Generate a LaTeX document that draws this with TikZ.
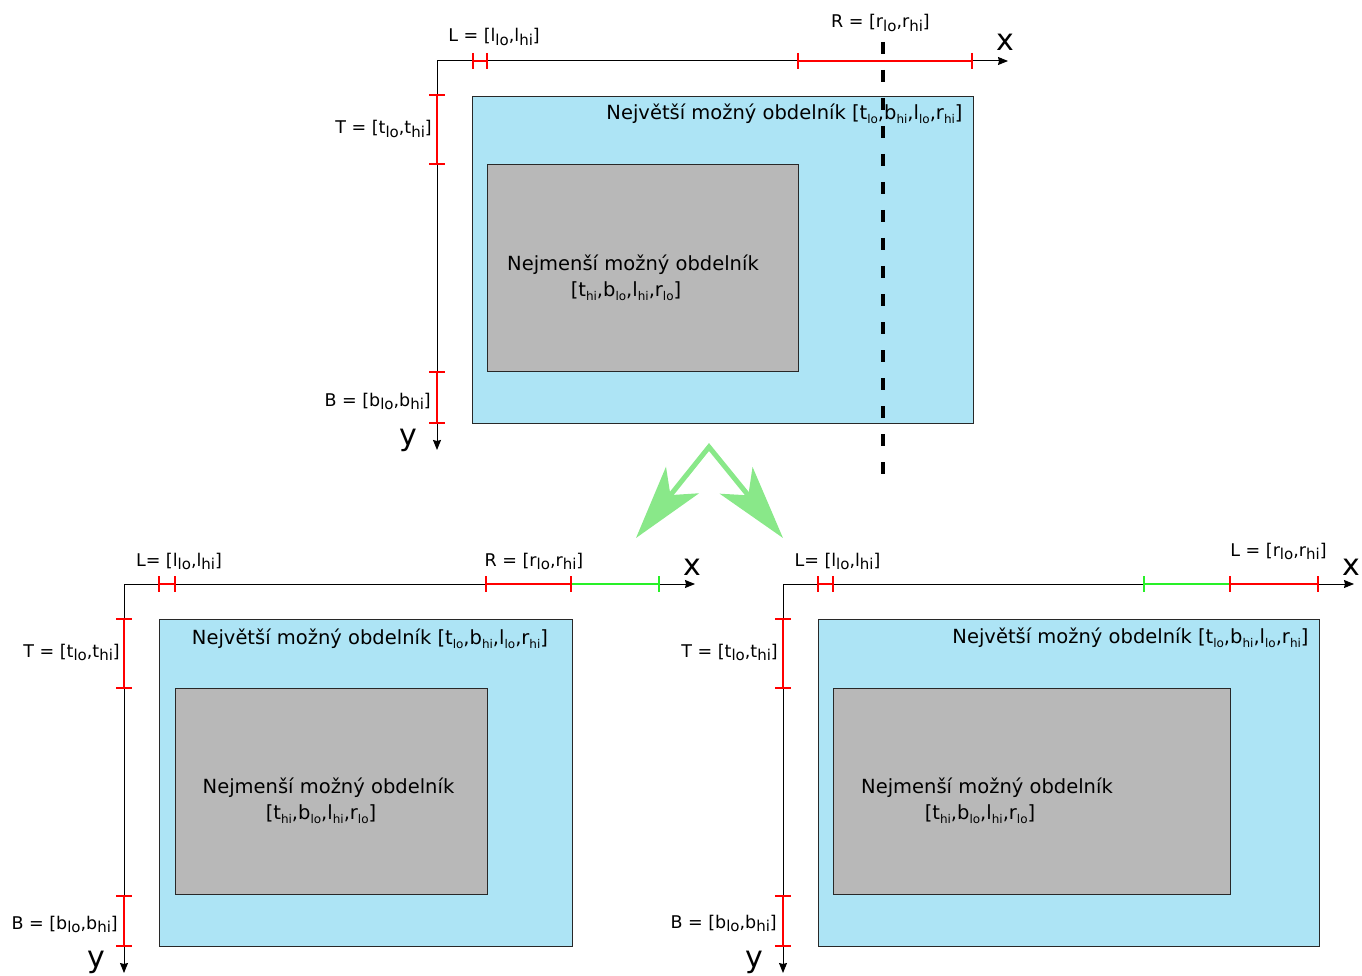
\documentclass[tikz,border=0pt]{standalone}
\usepackage{fontspec}
\setmainfont{DejaVu Sans}
\usetikzlibrary{arrows.meta}

\definecolor{boxblue}{RGB}{173,228,245}
\definecolor{boxgray}{RGB}{184,184,184}
\definecolor{arrgreen}{RGB}{137,232,137}
\definecolor{segreen}{RGB}{40,240,40}
\definecolor{frame}{RGB}{40,40,40}

% subscripts of the axis labels and of the rectangle labels
\newcommand\asub[1]{\raisebox{-3.5pt}{\fontsize{15}{15}\selectfont #1}}
\newcommand\rsub[1]{\raisebox{-4pt}{\fontsize{12}{12}\selectfont #1}}

\tikzset{
  axis/.style={draw=black, line width=1pt, -{Stealth[length=10pt,width=8pt,inset=1pt]}},
  redseg/.style={draw=red, line width=1.6pt},
  greenseg/.style={draw=segreen, line width=1.6pt},
  tickmark/.style={draw=red, line width=1.1pt},
  greentick/.style={draw=segreen, line width=1.1pt},
  outerbox/.style={draw=frame, fill=boxblue, line width=0.9pt},
  innerbox/.style={draw=frame, fill=boxgray, line width=0.9pt},
  axlabel/.style={anchor=base, inner sep=0pt, font=\fontsize{17.5}{17.5}\selectfont},
  axname/.style={anchor=base, inner sep=0pt, font=\fontsize{30}{30}\selectfont},
  boxlabel/.style={anchor=base, inner sep=0pt, font=\fontsize{19.5}{19.5}\selectfont},
  splitline/.style={draw=black, line width=4.5pt, dash pattern=on 12pt off 16pt},
  branch/.style={draw=arrgreen, line width=5pt, line join=miter,
    {Stealth[length=74pt,width=42pt,inset=19pt]}-{Stealth[length=74pt,width=42pt,inset=19pt]}},
}

\begin{document}
\begin{tikzpicture}[x=1pt, y=-1pt]
\useasboundingbox (0,0) rectangle (1362,976);

% ---------------- upper diagram ----------------
\begin{scope}[shift={(437,61)}]
  \coordinate (uO) at (0,0);
  \coordinate (uX) at (571,0);
  \coordinate (uY) at (0,389);
  \draw[outerbox] (35,35) rectangle (536,362);
  \draw[innerbox] (50,103) rectangle (361,310);
  \draw[axis] (uO) -- (uX);
  \draw[axis] (uO) -- (uY);
  % interval L
  \draw[redseg] (36,0) -- (50,0);
  \draw[tickmark] (36,-8) -- (36,8) (50,-8) -- (50,8);
  % interval R
  \draw[redseg] (361,0) -- (535,0);
  \draw[tickmark] (361,-8) -- (361,8) (535,-8) -- (535,8);
  % interval T
  \draw[redseg] (0,34) -- (0,103);
  \draw[tickmark] (-8,34) -- (8,34) (-8,103) -- (8,103);
  % interval B
  \draw[redseg] (0,311) -- (0,362);
  \draw[tickmark] (-8,311) -- (8,311) (-8,362) -- (8,362);
  \node[axlabel] (uL) at (57,-19) {L = [l\asub{lo},l\asub{hi}]};
  \node[axlabel] (uR) at (443.5,-33) {R = [r\asub{lo},r\asub{hi}]};
  \node[axlabel, anchor=base east] (uT) at (-5,73) {T = [t\asub{lo},t\asub{hi}]};
  \node[axlabel, anchor=base east] (uB) at (-6,345) {B = [b\asub{lo},b\asub{hi}]};
  \node[axname] (ux) at (568,-10) {x};
  \node[axname] (uy) at (-29,384) {y};
  \node[boxlabel] (umax) at (347.5,59) {Největší možný obdelník [t\rsub{lo},b\rsub{hi},l\rsub{lo},r\rsub{hi}]};
  \node[boxlabel] (umin) at (196,209) {Nejmenší možný obdelník};
  \node[boxlabel] (umin2) at (189,235) {[t\rsub{hi},b\rsub{lo},l\rsub{hi},r\rsub{lo}]};
  % splitting line
  \coordinate (cutA) at (446,-19);
  \coordinate (cutB) at (446,413);
  \draw[splitline] (cutA) -- (cutB);
\end{scope}

% ---------------- branching arrows ----------------
\coordinate (apex) at (709,447);
\coordinate (leftTip) at (636,538);
\coordinate (rightTip) at (783,538);
\draw[branch] (leftTip) -- (apex) -- (rightTip);

% ---------------- lower left diagram ----------------
\begin{scope}[shift={(124,584)}]
  \coordinate (aO) at (0,0);
  \coordinate (aX) at (571,0);
  \coordinate (aY) at (0,389);
  \draw[outerbox] (35,35) rectangle (448,362);
  \draw[innerbox] (51,104) rectangle (363,310);
  \draw[axis] (aO) -- (aX);
  \draw[axis] (aO) -- (aY);
  \draw[redseg] (35,0) -- (51,0);
  \draw[tickmark] (35,-8) -- (35,8) (51,-8) -- (51,8);
  \draw[redseg] (362,0) -- (447,0);
  \draw[greenseg] (447,0) -- (535,0);
  \draw[tickmark] (362,-8) -- (362,8) (447,-8) -- (447,8);
  \draw[greentick] (535,-8) -- (535,8);
  \draw[redseg] (0,35) -- (0,104);
  \draw[tickmark] (-8,35) -- (8,35) (-8,104) -- (8,104);
  \draw[redseg] (0,312) -- (0,362);
  \draw[tickmark] (-8,312) -- (8,312) (-8,362) -- (8,362);
  \node[axlabel] (aL) at (55,-18) {L= [l\asub{lo},l\asub{hi}]};
  \node[axlabel] (aR) at (410,-18) {R = [r\asub{lo},r\asub{hi}]};
  \node[axlabel, anchor=base east] (aT) at (-4,73) {T = [t\asub{lo},t\asub{hi}]};
  \node[axlabel, anchor=base east] (aB) at (-6,345) {B = [b\asub{lo},b\asub{hi}]};
  \node[axname] (ax) at (568,-9) {x};
  \node[axname] (ay) at (-28,383) {y};
  \node[boxlabel] (amax) at (246,60) {Největší možný obdelník [t\rsub{lo},b\rsub{hi},l\rsub{lo},r\rsub{hi}]};
  \node[boxlabel] (amin) at (204.5,209) {Nejmenší možný obdelník};
  \node[boxlabel] (amin2) at (197,235) {[t\rsub{hi},b\rsub{lo},l\rsub{hi},r\rsub{lo}]};
\end{scope}

% ---------------- lower right diagram ----------------
\begin{scope}[shift={(783,584)}]
  \coordinate (bO) at (0,0);
  \coordinate (bX) at (571,0);
  \coordinate (bY) at (0,389);
  \draw[outerbox] (35,35) rectangle (536,362);
  \draw[innerbox] (50,104) rectangle (447,310);
  \draw[axis] (bO) -- (bX);
  \draw[axis] (bO) -- (bY);
  \draw[redseg] (35,0) -- (50,0);
  \draw[tickmark] (35,-8) -- (35,8) (50,-8) -- (50,8);
  \draw[greenseg] (361,0) -- (447,0);
  \draw[redseg] (447,0) -- (535,0);
  \draw[greentick] (361,-8) -- (361,8);
  \draw[tickmark] (447,-8) -- (447,8) (535,-8) -- (535,8);
  \draw[redseg] (0,35) -- (0,104);
  \draw[tickmark] (-8,35) -- (8,35) (-8,104) -- (8,104);
  \draw[redseg] (0,312) -- (0,362);
  \draw[tickmark] (-8,312) -- (8,312) (-8,362) -- (8,362);
  \node[axlabel] (bL) at (54.5,-18) {L= [l\asub{lo},l\asub{hi}]};
  \node[axlabel] (bR) at (495.5,-28) {L = [r\asub{lo},r\asub{hi}]};
  \node[axlabel, anchor=base east] (bT) at (-5,73) {T = [t\asub{lo},t\asub{hi}]};
  \node[axlabel, anchor=base east] (bB) at (-6,344) {B = [b\asub{lo},b\asub{hi}]};
  \node[axname] (bx) at (568,-9) {x};
  \node[axname] (by) at (-29,383) {y};
  \node[boxlabel] (bmax) at (347.5,59) {Největší možný obdelník [t\rsub{lo},b\rsub{hi},l\rsub{lo},r\rsub{hi}]};
  \node[boxlabel] (bmin) at (204,209) {Nejmenší možný obdelník};
  \node[boxlabel] (bmin2) at (197,235) {[t\rsub{hi},b\rsub{lo},l\rsub{hi},r\rsub{lo}]};
\end{scope}
\end{tikzpicture}
\end{document}
